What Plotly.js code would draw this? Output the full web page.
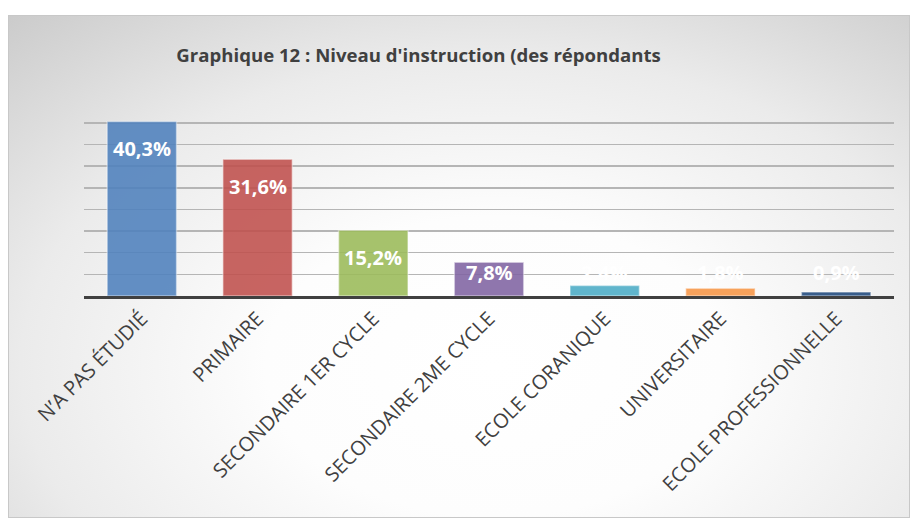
<!DOCTYPE html>
<html>
<head>
<meta charset="utf-8">
<script src="https://cdn.plot.ly/plotly-3.0.1.min.js"></script>
<style>
  html, body { margin: 0; padding: 0; background: #ffffff; }
  #frame {
    position: absolute; left: 8px; top: 15px; width: 902px; height: 503px;
    box-sizing: border-box; border: 1px solid #c8c8c8;
    background: radial-gradient(ellipse 85% 100% at 54% 70%, #ffffff 0%, #fdfdfd 30%, #ebebeb 62%, #c6c6c6 100%);
  }
  #chart { position: absolute; left: 0; top: 0; width: 910px; height: 518px; }
</style>
</head>
<body>
<div id="frame"></div>
<div id="chart"></div>
<script>
const categories = ["N\u2019A PAS \u00c9TUDI\u00c9", "PRIMAIRE", "SECONDAIRE 1ER CYCLE", "SECONDAIRE 2ME CYCLE", "ECOLE CORANIQUE", "UNIVERSITAIRE", "ECOLE PROFESSIONNELLE"];
const values = [40.3, 31.6, 15.2, 7.8, 2.4, 1.8, 0.9];
const barColors = ["#4F81BD", "#C0504D", "#9BBB59", "#8064A2", "#4BACC6", "#F79646", "#1F497D"];
const titleText = "Graphique 12 : Niveau d'instruction (des r\u00e9pondants";

const labels = values.map(v => v.toFixed(1).replace('.', ',') + '%');

const trace = {
  type: 'bar',
  x: categories,
  y: values,
  marker: {
    color: barColors,
    opacity: 0.88,
    line: { color: 'rgba(255,255,255,0.45)', width: 1.5 }
  },
  hoverinfo: 'none'
};

const annotations = values.map((v, i) => ({
  x: categories[i],
  y: Math.max(v - 6.3, 5.5),
  xref: 'x', yref: 'y',
  text: '<b>' + labels[i] + '</b>',
  showarrow: false,
  yanchor: 'middle',
  xanchor: 'center',
  font: { family: 'Open Sans', size: 20, color: '#ffffff' }
}));

const layout = {
  width: 910, height: 518,
  paper_bgcolor: 'rgba(0,0,0,0)',
  plot_bgcolor: 'rgba(0,0,0,0)',
  margin: { l: 84, r: 16, t: 101, b: 222 },
  bargap: 0.4,
  showlegend: false,
  title: {
    text: '<b>' + titleText + '</b>',
    xref: 'container', yref: 'container',
    x: 0.46, xanchor: 'center',
    y: 1 - 55 / 518, yanchor: 'middle',
    font: { family: 'Open Sans', size: 18.6, color: '#404040' }
  },
  xaxis: {
    type: 'category',
    tickangle: -45,
    automargin: false,
    showline: true, linecolor: '#404040', linewidth: 3,
    ticks: '',
    showgrid: false,
    tickfont: { family: 'Open Sans', size: 20, color: '#404040' }
  },
  yaxis: {
    range: [0, 45.05],
    dtick: 5,
    showticklabels: false,
    showgrid: true, gridcolor: '#b5b5b5', gridwidth: 1.5,
    zeroline: false,
    ticks: ''
  },
  annotations: annotations
};

Plotly.newPlot('chart', [trace], layout, { displayModeBar: false, staticPlot: true });
</script>
</body>
</html>
